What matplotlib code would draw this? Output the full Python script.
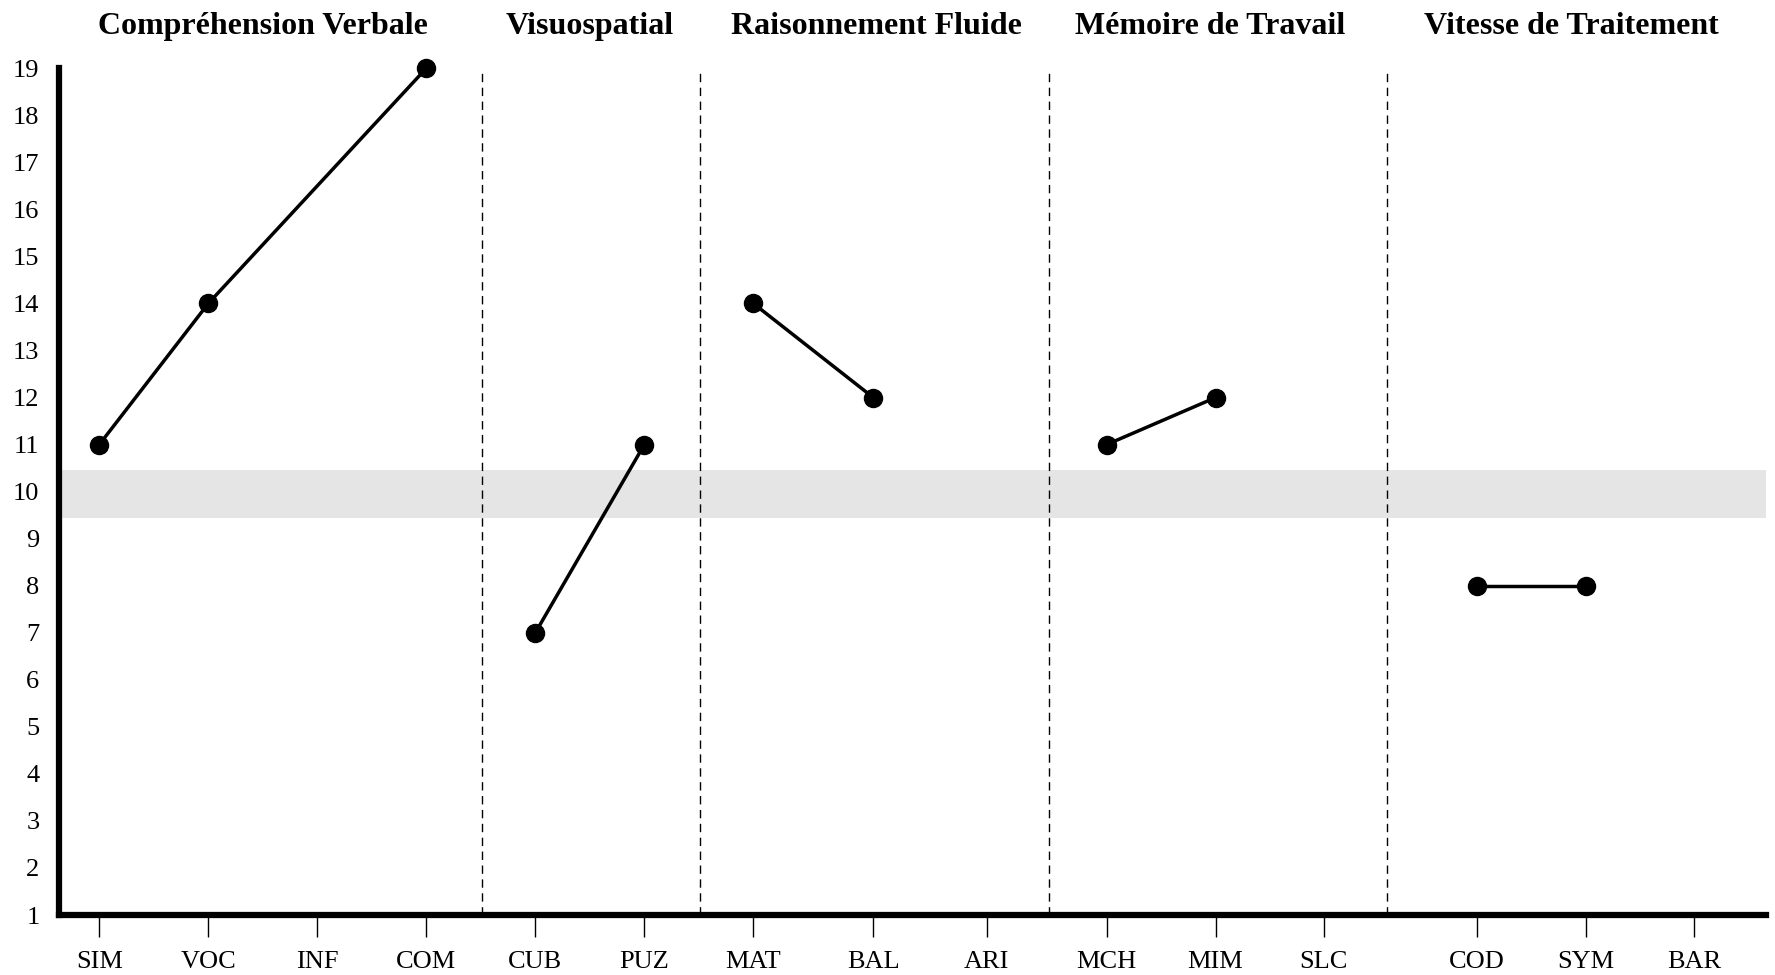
import matplotlib
matplotlib.use('Agg')
import matplotlib.pyplot as plt
import numpy as np

# subtest labels and scaled scores (None = not administered)
subtests = ['SIM', 'VOC', 'INF', 'COM', 'CUB', 'PUZ', 'MAT', 'BAL', 'ARI',
            'MCH', 'MIM', 'SLC', 'COD', 'SYM', 'BAR']
scores = [11, 14, None, 19, 7, 11, 14, 12, None, 11, 12, None, 8, 8, None]
groups = ['Compréhension Verbale', 'Visuospatial', 'Raisonnement Fluide',
          'Mémoire de Travail', 'Vitesse de Traitement']
group_sizes = [4, 2, 3, 3, 3]

# layout (x positions of each subtest, separators, title centres)
xpos = [0, 1, 2, 3, 4, 5, 6, 7.1, 8.14, 9.24, 10.24, 11.23, 12.64, 13.64, 14.63]
seps = [3.51, 5.51, 8.71, 11.81]
title_x = [1.5, 4.5, 7.13, 10.19, 13.5]
xmin, xmax = -0.37, 15.29

plt.rcParams['font.family'] = ['Liberation Serif', 'DejaVu Serif']

fig = plt.figure(figsize=(17.75, 9.75), dpi=100)
ax = fig.add_axes([0.0332, 0.0615, 0.9618, 0.8685])
ax.set_xlim(xmin, xmax)
ax.set_ylim(1, 19)

# average band
ax.axhspan(9.45, 10.45, color='#e5e5e5', zorder=0, lw=0)

for s in seps:
    ax.plot([s, s], [1, 19], color='black', lw=1, ls=(0, (6, 4)), zorder=1)

start = 0
for n in group_sizes:
    xs = [xpos[i] for i in range(start, start + n) if scores[i] is not None]
    ys = [scores[i] for i in range(start, start + n) if scores[i] is not None]
    ax.plot(xs, ys, color='black', lw=2.5, marker='o', markersize=13,
            clip_on=False, zorder=3)
    start += n

# group titles over their sections
for xc, g in zip(title_x, groups):
    ax.text(xc, 1.041, g, transform=ax.get_xaxis_transform(), ha='center',
            va='baseline', fontsize=23, fontweight='bold')

ax.set_xticks(xpos)
ax.set_xticklabels(subtests, fontsize=19)
ax.set_yticks(range(1, 20))
ax.tick_params(axis='x', length=16, width=1, pad=10, direction='out')
ax.tick_params(axis='y', length=0, pad=14, labelsize=19)

for side in ['top', 'right']:
    ax.spines[side].set_visible(False)
ax.spines['left'].set_linewidth(4.5)
ax.spines['bottom'].set_linewidth(4.5)

fig.savefig('out.png', dpi=100)
